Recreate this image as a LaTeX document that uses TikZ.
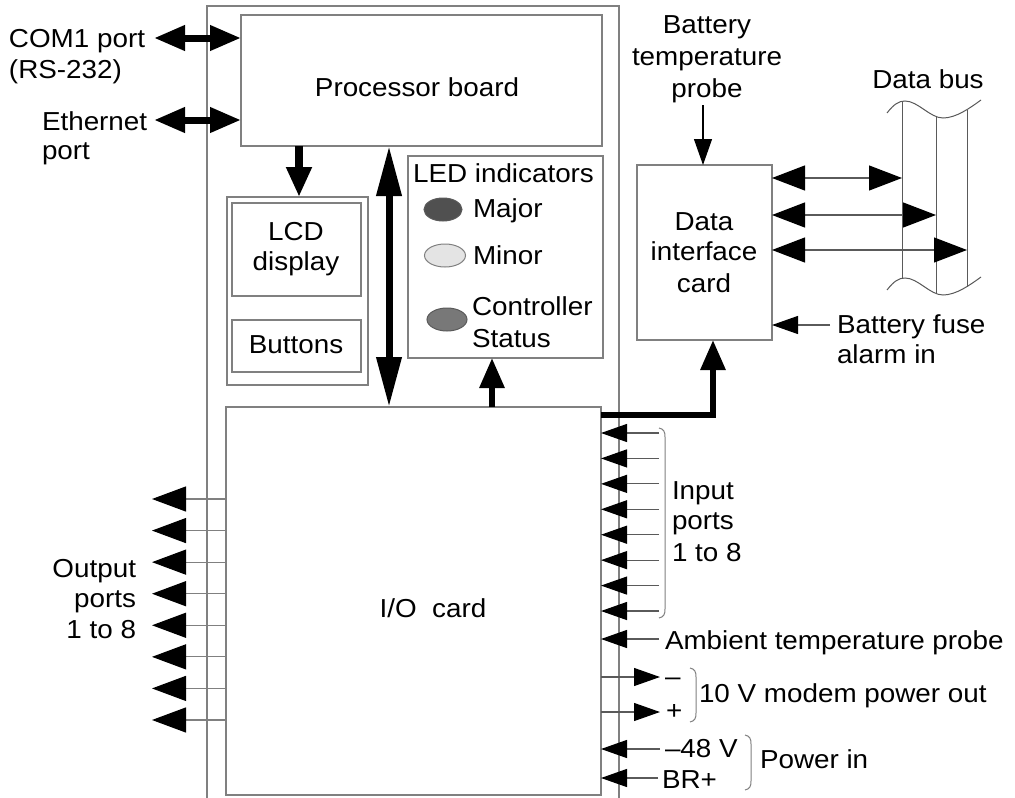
\documentclass[tikz,border=0pt]{standalone}
\usepackage{fontspec}
\setmainfont{Liberation Sans}[FakeStretch=1.07]
\usetikzlibrary{arrows.meta,shapes.geometric}
\definecolor{boxgray}{RGB}{128,128,128}
\definecolor{linegray}{RGB}{90,90,90}
\definecolor{ledmajor}{RGB}{80,80,80}
\definecolor{ledminor}{RGB}{228,228,228}
\definecolor{ledctrl}{RGB}{120,120,120}
\tikzset{
  bigtip/.tip={Triangle[length=31pt,width=24pt,color=black]},
  longtip/.tip={Triangle[length=50pt,width=24pt,color=black]},
  medtip/.tip={Triangle[length=30pt,width=24pt,color=black]},
  bustip/.tip={Triangle[length=33pt,width=25pt,color=black]},
  outtip/.tip={Triangle[length=34pt,width=25pt,color=black]},
  smalltip/.tip={Triangle[length=26pt,width=18pt,color=black]},
}
\begin{document}
\begin{tikzpicture}[x=1pt,y=-1pt,
  every node/.style={font=\fontsize{26}{31}\selectfont, inner sep=0pt, outer sep=0pt},
  box/.style={draw=boxgray, line width=1.3pt, rectangle},
  lbl/.style={anchor=base},
  lblw/.style={anchor=base west},
  lble/.style={anchor=base east},
  frameline/.style={draw=boxgray, line width=1.3pt},
  dblbig/.style={bigtip-bigtip, line width=7pt},
  dbllong/.style={longtip-longtip, line width=7pt},
  downbig/.style={-medtip, line width=8pt},
  upbig/.style={-medtip, line width=6pt},
  feed/.style={-medtip, line width=6pt, line join=miter},
  busarrow/.style={bustip-bustip, draw=linegray, line width=1.2pt},
  portin/.style={-smalltip, draw=linegray, line width=1.2pt},
  portout/.style={-outtip, draw=boxgray, line width=1.2pt},
  bracket/.style={draw=boxgray, line width=1pt},
  led/.style={ellipse, draw=linegray, line width=1pt},
]
\useasboundingbox (0,0) rectangle (1015,798);
\fill[white] (0,0) rectangle (1015,798);

% outer frame
\draw[frameline] (207,798) -- (207,6) -- (619,6) -- (619,798);

% boxes
\node[box, minimum width=361, minimum height=131] (proc) at (421.5,80.5) {};
\node[lbl] (proctext) at (417,96) {Processor board};

\node[box, minimum width=141, minimum height=188] (lcdout) at (297.5,291) {};
\node[box, minimum width=129, minimum height=93] (lcd) at (296.5,249.5) {};
\node[lbl] (lcdt1) at (296,240) {LCD};
\node[lbl] (lcdt2) at (296,270) {display};
\node[box, minimum width=129, minimum height=52] (buttons) at (296.5,346) {};
\node[lbl] (buttonst) at (296,353) {Buttons};

\node[box, minimum width=195, minimum height=202] (ledbox) at (505.5,257) {};
\node[lbl] (ledt) at (503.5,182) {LED indicators};
\node[led, fill=ledmajor, minimum width=38, minimum height=23] (major) at (443,209.5) {};
\node[lblw] (majort) at (473,217) {Major};
\node[led, fill=ledminor, draw=boxgray, minimum width=41, minimum height=23] (minor) at (445,255.5) {};
\node[lblw] (minort) at (473,264) {Minor};
\node[led, fill=ledctrl, minimum width=40, minimum height=23] (ctrl) at (447,319.5) {};
\node[lblw] (ctrlt1) at (472,315) {Controller};
\node[lblw] (ctrlt2) at (472,347) {Status};

\node[box, minimum width=375, minimum height=388] (io) at (413.5,601) {};
\node[lbl] (iot) at (433,617) {I/O\ \ card};

\node[box, minimum width=135, minimum height=175] (dic) at (704.5,252.5) {};
\node[lbl] (dict1) at (704,230) {Data};
\node[lbl] (dict2) at (704,260) {interface};
\node[lbl] (dict3) at (704,292) {card};

% left labels
\node[lblw] (com1) at (9,47) {COM1 port};
\node[lblw] (com2) at (9,78) {(RS-232)};
\node[lblw] (eth1) at (42,130) {Ethernet};
\node[lblw] (eth2) at (42,159) {port};
\node[lble] (out1) at (136,577) {Output};
\node[lble] (out2) at (136,607) {ports};
\node[lble] (out3) at (136,638) {1 to 8};

% top right labels
\node[lbl] (btp1) at (707,33) {Battery};
\node[lbl] (btp2) at (707,65) {temperature};
\node[lbl] (btp3) at (707,97) {probe};
\node[lbl] (dbus) at (928,88) {Data bus};
\node[lblw] (bf1) at (837,333) {Battery fuse};
\node[lblw] (bf2) at (837,363) {alarm in};

% right labels
\node[lblw] (in1) at (672,499) {Input};
\node[lblw] (in2) at (672,529) {ports};
\node[lblw] (in3) at (672,561) {1 to 8};
\node[lblw] (ambt) at (665,649) {Ambient temperature probe};
\node[lblw] (minus) at (665,685) {–};
\node[lblw] (plus) at (666,719) {+};
\node[lblw] (modt) at (699,702) {10 V modem power out};
\node[lblw] (m48) at (665,757) {–48 V};
\node[lblw] (brp) at (662,788) {BR+};
\node[lblw] (pwr) at (760,768) {Power in};

% data bus
\draw[draw=linegray, line width=1pt]
  (887,113) .. controls (894,104) and (899,101) .. (905,101)
  .. controls (918,101) and (930,118) .. (943,118)
  .. controls (956,118) and (970,108) .. (981,100);
\draw[draw=linegray, line width=1pt]
  (887,290) .. controls (894,281) and (899,278) .. (905,278)
  .. controls (918,278) and (930,295) .. (943,295)
  .. controls (956,295) and (970,285) .. (981,277);
\coordinate (bus1t) at (902,101.5);
\coordinate (bus1b) at (902,278.5);
\coordinate (bus2t) at (936,116.5);
\coordinate (bus2b) at (936,293.5);
\coordinate (bus3t) at (967,110);
\coordinate (bus3b) at (967,287);
\draw[draw=linegray, line width=1pt] (bus1t) -- (bus1b);
\draw[draw=linegray, line width=1pt] (bus2t) -- (bus2b);
\draw[draw=linegray, line width=1pt] (bus3t) -- (bus3b);

% processor connections
\coordinate (comL) at (154,38);
\coordinate (ethL) at (154,120);
\draw[dblbig] (comL) -- (comL -| proc.west);
\draw[dblbig] (ethL) -- (ethL -| proc.west);

\coordinate (lcdx) at (299,0);
\draw[downbig] (proc.south -| lcdx) -- (lcdout.north -| lcdx);
\coordinate (vx) at (389,0);
\draw[dbllong] (proc.south -| vx) -- (io.north -| vx);
\coordinate (ledx) at (492,0);
\draw[upbig] (io.north -| ledx) -- (ledbox.south -| ledx);
\draw[feed] ([yshift=-8pt]io.north east) -| ([xshift=8.5pt]dic.south);

% data interface card connections
\coordinate (btpend) at (703,105);
\draw[portin, draw=black] (btpend) -- (btpend |- dic.north);
\coordinate (b1) at (902,178);
\coordinate (b2) at (936,215);
\coordinate (b3) at (967,250);
\draw[busarrow] (b1 -| dic.east) -- (b1);
\draw[busarrow] (b2 -| dic.east) -- (b2);
\draw[busarrow] (b3 -| dic.east) -- (b3);
\coordinate (bf) at (830,325);
\draw[portin] (bf) -- (bf -| dic.east);

% input ports
\foreach \i in {0,...,7}{
  \pgfmathsetmacro\yy{433+25.43*\i}
  \coordinate (in\i) at (659,\yy);
  \draw[portin] (in\i) -- (in\i -| io.east);
}
\draw[bracket] (659,428) .. controls (664,429) and (665,432) .. (665,437) -- (665,609) .. controls (665,614) and (664,617) .. (659,618);

\coordinate (amb) at (659,639);
\draw[portin] (amb) -- (amb -| io.east);

\coordinate (mod1) at (660,677);
\coordinate (mod2) at (660,712);
\draw[portin] (mod1 -| io.east) -- (mod1);
\draw[portin] (mod2 -| io.east) -- (mod2);
\draw[bracket] (690,668) .. controls (695,669) and (696,672) .. (696,677) -- (696,713) .. controls (696,718) and (695,721) .. (690,722);

\coordinate (pw1) at (660,749);
\coordinate (pw2) at (658,778);
\draw[portin] (pw1) -- (pw1 -| io.east);
\draw[portin] (pw2) -- (pw2 -| io.east);
\draw[bracket] (745,735) .. controls (750,736) and (751,739) .. (751,744) -- (751,781) .. controls (751,786) and (750,789) .. (745,790);

% output ports
\foreach \i in {0,...,7}{
  \pgfmathsetmacro\yy{499+31.57*\i}
  \coordinate (out\i) at (152,\yy);
  \draw[portout] (out\i -| io.west) -- (out\i);
}
\end{tikzpicture}
\end{document}
